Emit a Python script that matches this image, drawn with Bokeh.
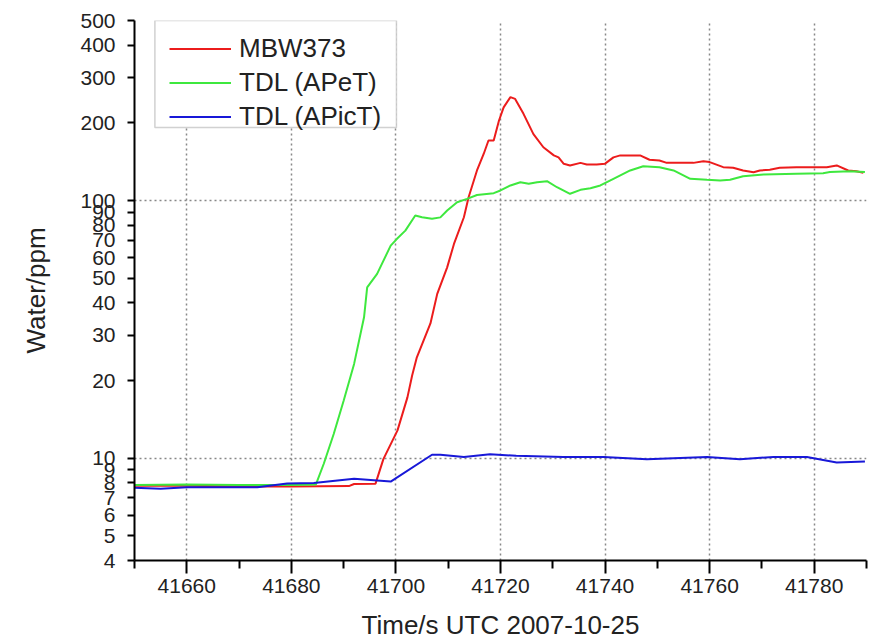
from bokeh.plotting import figure
from bokeh.models import Range1d, FixedTicker, PrintfTickFormatter, Legend, LegendItem, BoxAnnotation
from bokeh.embed import file_html
from bokeh.resources import INLINE

# Time (s UTC) and water mixing ratio (ppm) for each instrument
mbw_t = [41650, 41660, 41670, 41680, 41691.0, 41692.0, 41696.1, 41697.6, 41700.3, 41702.2,
         41703.1, 41704.0, 41706.6, 41707.9, 41709.8, 41711.1, 41713.0, 41713.9, 41715.5, 41716.8,
         41717.7, 41718.7, 41719.7, 41720.6, 41721.9, 41722.8, 41724.4, 41726.3, 41728.2, 41730.2,
         41731.1, 41732.1, 41733.3, 41735.3, 41736.5, 41738.4, 41740.0, 41741.6, 41742.9, 41746.7,
         41748.5, 41750.4, 41751.8, 41756.9, 41758.8, 41760.0, 41762.6, 41764.5, 41766.4, 41768.4,
         41769.6, 41771.5, 41773.4, 41776.6, 41782.4, 41784.3, 41786.5, 41788.1, 41789.4]
mbw_v = [7.8, 7.8, 7.75, 7.75, 7.78, 7.93, 7.95, 9.9, 12.8, 17.2,
         20.9, 24.6, 33.3, 43.4, 55.0, 67.8, 86.1, 103, 130.8, 151.9,
         171, 171, 204, 230, 252, 248, 217, 181, 161, 149.7,
         147, 138.8, 136.8, 140, 138, 138, 139, 147, 149.7, 149.7,
         144, 143, 140, 140, 142, 141, 134.7, 134, 130.8, 128.8,
         130.8, 131.6, 134, 134.7, 134.7, 136.8, 130.8, 130, 128]

apet_t = [41650, 41660, 41670, 41680, 41684.7, 41686.2, 41688.1, 41690.0, 41692.0, 41693.9,
          41694.5, 41696.4, 41699.0, 41700.2, 41701.8, 41703.7, 41705.0, 41706.9, 41708.5, 41709.8,
          41711.7, 41713.6, 41715.5, 41718.7, 41720.0, 41721.9, 41723.8, 41725.4, 41727.0, 41728.9,
          41730.8, 41733.3, 41735.3, 41737.2, 41739.1, 41741.6, 41744.8, 41747.3, 41750.4, 41753.1,
          41756.3, 41759.5, 41762.0, 41763.9, 41766.4, 41770.3, 41776.6, 41781.7, 41783.0, 41786.8,
          41789.7]
apet_v = [7.85, 7.9, 7.85, 7.85, 7.9, 9.5, 12.4, 16.7, 23.2, 35.2,
          46, 51.9, 66.8, 71, 76.4, 87.4, 86.1, 84.9, 86, 91.4,
          98.5, 101.5, 105, 106.8, 109.4, 114.4, 117.8, 116.1, 117.8, 118.9,
          112.6, 106.2, 110, 111.6, 114.4, 121.4, 130.8, 135.9, 134.7, 130.8,
          121.4, 120.3, 119.6, 120.3, 124.3, 126.2, 127, 127.7, 129, 130,
          129]

apict_t = [41650, 41655, 41660, 41673.5, 41679.2, 41684.3, 41692, 41695.8, 41699, 41706.9,
           41708.5, 41713, 41718, 41723, 41732, 41739.7, 41748, 41759.5, 41765.8, 41772.2,
           41778.6, 41784.3, 41789.7]
apict_v = [7.66, 7.6, 7.7, 7.7, 7.97, 8.0, 8.3, 8.2, 8.1, 10.3,
           10.3, 10.1, 10.35, 10.2, 10.1, 10.1, 9.9, 10.1, 9.9, 10.1,
           10.1, 9.6, 9.7]

series_names = ["MBW373", "TDL (APeT)", "TDL (APicT)"]
series_colors = ["#ec1c1c", "#3ee83e", "#1818d8"]

x_major = [41660, 41680, 41700, 41720, 41740, 41760, 41780]
x_minor = [41650, 41670, 41690, 41710, 41730, 41750, 41770, 41790]
y_ticks = [4, 5, 6, 7, 8, 9, 10, 20, 30, 40, 50, 60, 70, 80, 90, 100, 200, 300, 400, 500]
y_grid = [10, 100]

FONT = "Liberation Sans"

p = figure(width=869, height=642, y_axis_type="log",
           x_range=Range1d(41650, 41790), y_range=Range1d(4, 500),
           output_backend="svg", toolbar_location=None,
           min_border_left=134, min_border_right=3, min_border_top=20, min_border_bottom=82)
p.outline_line_color = None
p.background_fill_color = "white"
p.border_fill_color = "white"

# axes
p.xaxis.ticker = FixedTicker(ticks=x_major, minor_ticks=x_minor)
p.yaxis.ticker = FixedTicker(ticks=y_ticks, minor_ticks=[])
p.yaxis.formatter = PrintfTickFormatter(format="%d")
for ax in (p.xaxis[0], p.yaxis[0]):
    ax.axis_line_width = 2
    ax.axis_line_color = "black"
    ax.major_tick_line_width = 2
    ax.minor_tick_line_width = 2
    ax.major_tick_in = 0
    ax.minor_tick_in = 0
    ax.major_label_text_font = FONT
    ax.major_label_text_font_size = "21px"
    ax.major_label_text_color = "#222222"
    ax.axis_label_text_font = FONT
    ax.axis_label_text_font_size = "26px"
    ax.axis_label_text_font_style = "normal"
    ax.axis_label_text_color = "#222222"
p.xaxis.major_tick_out = 13
p.xaxis.minor_tick_out = 8
p.xaxis.major_label_standoff = 5
p.xaxis.axis_label = "Time/s UTC 2007-10-25"
p.xaxis.axis_label_standoff = 14
p.yaxis.major_tick_out = 7
p.yaxis.minor_tick_out = 0
p.yaxis.major_label_standoff = 12
p.yaxis.axis_label = "Water/ppm"
p.yaxis.axis_label_standoff = 26

# dotted grid
p.xgrid.ticker = FixedTicker(ticks=x_major)
p.ygrid.ticker = FixedTicker(ticks=y_grid)
for g in (p.xgrid[0], p.ygrid[0]):
    g.grid_line_color = "#888888"
    g.grid_line_dash = "2 3"
    g.grid_line_width = 1.5

# data lines
r1 = p.line(mbw_t, mbw_v, line_color=series_colors[0], line_width=2)
r2 = p.line(apet_t, apet_v, line_color=series_colors[1], line_width=2)
r3 = p.line(apict_t, apict_v, line_color=series_colors[2], line_width=2)

# legend frame (white panel covering the grid), then the legend entries on top
legend_box = BoxAnnotation(left=41653.9, right=41700.1, top=500, bottom=192.2,
                           fill_color="white", fill_alpha=1.0,
                           line_color="#666666", line_width=1.5)
p.add_layout(legend_box)

legend = Legend(items=[LegendItem(label=series_names[0], renderers=[r1]),
                       LegendItem(label=series_names[1], renderers=[r2]),
                       LegendItem(label=series_names[2], renderers=[r3])],
                location=(35, 428))
legend.label_text_font = FONT
legend.label_text_font_size = "26px"
legend.label_text_color = "#222222"
legend.glyph_width = 62
legend.glyph_height = 29
legend.label_height = 29
legend.spacing = 3
legend.padding = 16
legend.label_standoff = 8
legend.border_line_color = None
legend.background_fill_alpha = 0.0
p.add_layout(legend)

open("out.html", "w").write(file_html(p, INLINE))
